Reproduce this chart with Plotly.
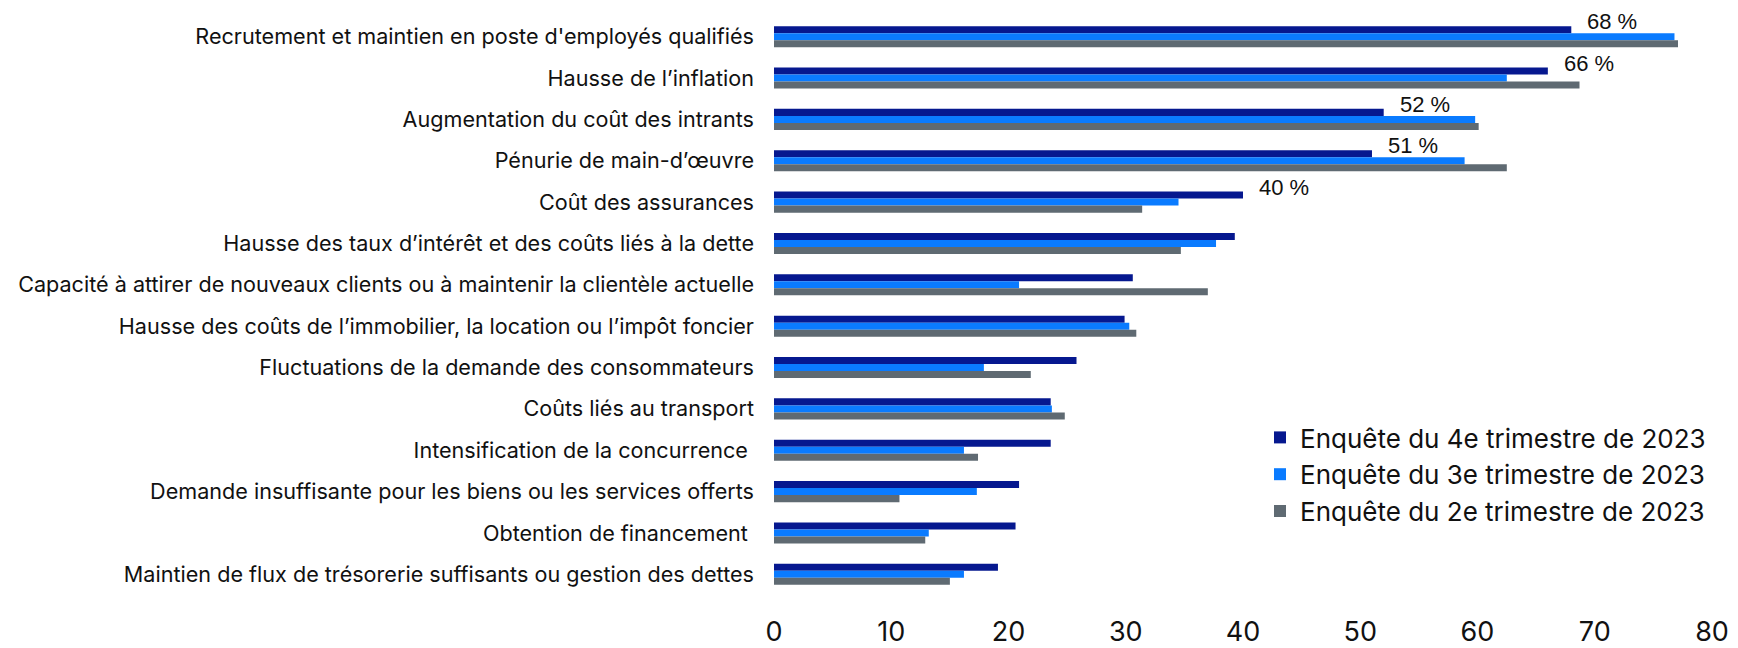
import plotly.graph_objects as go

categories = [
    "Recrutement et maintien en poste d'employés qualifiés",
    "Hausse de l’inflation",
    "Augmentation du coût des intrants",
    "Pénurie de main-d’œuvre",
    "Coût des assurances",
    "Hausse des taux d’intérêt et des coûts liés à la dette",
    "Capacité à attirer de nouveaux clients ou à maintenir la clientèle actuelle",
    "Hausse des coûts de l’immobilier, la location ou l’impôt foncier",
    "Fluctuations de la demande des consommateurs",
    "Coûts liés au transport",
    "Intensification de la concurrence\u00a0",
    "Demande insuffisante pour les biens ou les services offerts",
    "Obtention de financement\u00a0",
    "Maintien de flux de trésorerie suffisants ou gestion des dettes",
]

q4_2023 = [68, 66, 52, 51, 40, 39.3, 30.6, 29.9, 25.8, 23.6, 23.6, 20.9, 20.6, 19.1]
q3_2023 = [76.8, 62.5, 59.8, 58.9, 34.5, 37.7, 20.9, 30.3, 17.9, 23.7, 16.2, 17.3, 13.2, 16.2]
q2_2023 = [77.1, 68.7, 60.1, 62.5, 31.4, 34.7, 37.0, 30.9, 21.9, 24.8, 17.4, 10.7, 12.9, 15.0]

series_names = [
    "Enquête du 4e trimestre de 2023",
    "Enquête du 3e trimestre de 2023",
    "Enquête du 2e trimestre de 2023",
]
colors = ["#06188F", "#0A7BFF", "#5F6A72"]

labels_q4 = ["68 %", "66 %", "52 %", "51 %", "40 %"]

x_ticks = [0, 10, 20, 30, 40, 50, 60, 70, 80]

W, H = 1738, 648
ML, MR, MT, MB = 774, 26, 16, 53

fig = go.Figure()
for name, vals, col in zip(series_names, [q4_2023, q3_2023, q2_2023], colors):
    fig.add_trace(go.Bar(
        y=categories, x=vals, name=name, orientation="h",
        marker=dict(color=col, line=dict(width=0)),
    ))

for i, lab in enumerate(labels_q4):
    fig.add_annotation(
        x=q4_2023[i], y=categories[i], text=lab, showarrow=False,
        xanchor="left", yanchor="middle", xshift=14, yshift=15,
        font=dict(family="Liberation Sans, Arial, sans-serif", size=22, color="#111111"),
    )

ph = H - MT - MB
pw = W - ML - MR
leg_left = 1260
leg_top = 414

fig.update_layout(
    width=W, height=H,
    paper_bgcolor="white", plot_bgcolor="white",
    margin=dict(l=ML, r=MR, t=MT, b=MB),
    barmode="group", bargap=0.49, bargroupgap=0,
    font=dict(family="Inter, Lato, sans-serif", color="#111111"),
    showlegend=True,
    legend=dict(
        x=(leg_left - ML) / pw, y=1 - (leg_top - MT) / ph,
        yanchor="top", xanchor="left",
        font=dict(size=26, family="Inter, sans-serif", color="#111111"),
        bgcolor="rgba(0,0,0,0)", tracegroupgap=0,
    ),
)

fig.update_xaxes(
    range=[0, 80], tickvals=x_ticks, showgrid=False, zeroline=False, showline=False,
    ticks="", tickfont=dict(size=27, family="Inter, sans-serif", color="#111111"),
    ticklabelstandoff=18, automargin=False,
)
fig.update_yaxes(
    autorange="reversed", showgrid=False, zeroline=False, showline=False,
    ticks="", tickfont=dict(size=21.6, family="Inter, sans-serif", color="#111111"),
    ticklabelstandoff=19, automargin=False,
)

fig.write_html(
    "out.html",
    config={"displayModeBar": False},
    post_script="document.body.style.margin='0';document.body.style.overflow='hidden';",
)
